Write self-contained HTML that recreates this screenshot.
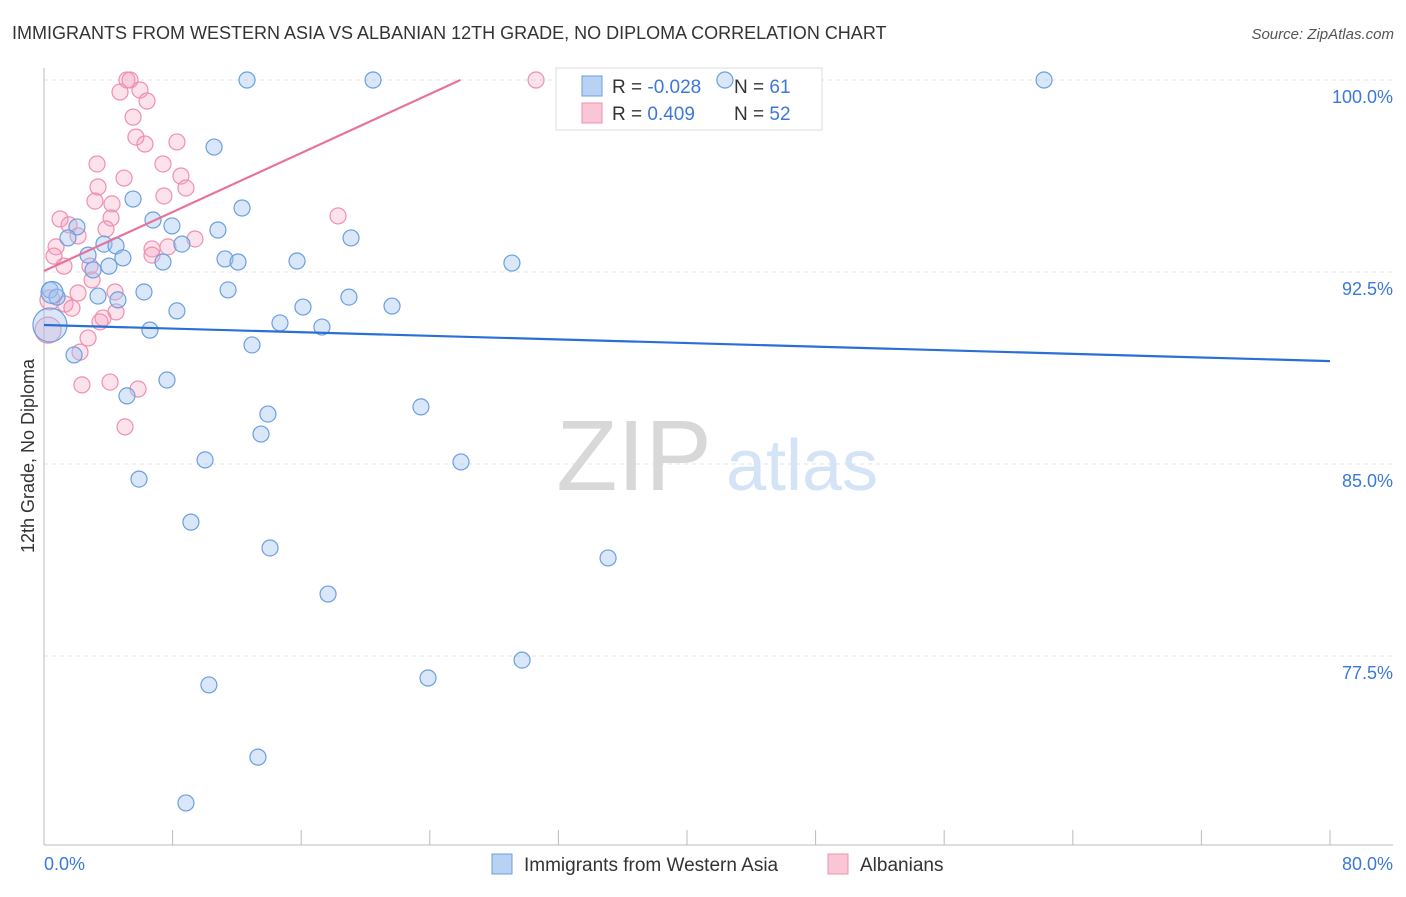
<!DOCTYPE html>
<html><head><meta charset="utf-8"><style>
body{margin:0;background:#fff;width:1406px;height:892px;overflow:hidden;font-family:"Liberation Sans",sans-serif}
svg text{font-family:"Liberation Sans",sans-serif}
</style></head><body>
<svg id="chart" width="1406" height="892" xmlns="http://www.w3.org/2000/svg">
<text x="12" y="39" font-size="18" fill="#333">IMMIGRANTS FROM WESTERN ASIA VS ALBANIAN 12TH GRADE, NO DIPLOMA CORRELATION CHART</text>
<text x="1394" y="39" font-size="15" fill="#555" text-anchor="end" font-style="italic">Source: ZipAtlas.com</text>
<g id="grid"></g>
<g>
<text x="634" y="490" font-size="100" fill="#d8d8d8" text-anchor="middle" font-family="Liberation Serif">ZIP</text>
<text x="802" y="490" font-size="72" fill="#d4e3f5" text-anchor="middle">atlas</text>
</g>
<line x1="44" y1="68" x2="44" y2="845" stroke="#bbb"/>
<line x1="44" y1="845" x2="1393" y2="845" stroke="#bbb"/>
<g>
<rect x="556" y="68" width="266" height="62" fill="#fff" stroke="#ddd"/>
<rect x="582" y="76" width="20" height="20" fill="#b8d2f4" stroke="#6a9fe0"/>
<rect x="582" y="103" width="20" height="20" fill="#f9c6d6" stroke="#f08fb0"/>
<text x="612" y="93" font-size="19" fill="#333">R = <tspan fill="#3b78d8">-0.028</tspan></text>
<text x="734" y="93" font-size="19" fill="#333">N = <tspan fill="#3b78d8"> 61</tspan></text>
<text x="612" y="120" font-size="19" fill="#333">R = <tspan fill="#3b78d8"> 0.409</tspan></text>
<text x="734" y="120" font-size="19" fill="#333">N = <tspan fill="#3b78d8">52</tspan></text>
</g>
<g id="points"></g>
<g id="trends"></g>
<text transform="translate(34,456) rotate(-90)" font-size="18" fill="#333" text-anchor="middle">12th Grade, No Diploma</text>
<text x="44" y="870" font-size="18" fill="#3b78d8">0.0%</text>
<text x="1393" y="870" font-size="18" fill="#3b78d8" text-anchor="end">80.0%</text>
<g>
<rect x="492" y="854" width="20" height="20" fill="#b8d2f4" stroke="#6a9fe0"/>
<text x="524" y="871" font-size="19" fill="#333">Immigrants from Western Asia</text>
<rect x="828" y="854" width="20" height="20" fill="#f9c6d6" stroke="#f08fb0"/>
<text x="860" y="871" font-size="19" fill="#333">Albanians</text>
</g>
</svg>
<script>
const yTicks=[100,92.5,85,77.5];
const yTickLabels=["100.0%","92.5%","85.0%","77.5%"];
const xTicks=[0,8,16,24,32,40,48,56,64,72,80];
const blueX=[12.63,20.47,42.36,62.21,10.58,5.54,6.78,7.96,12.32,10.82,19.10,2.05,1.49,3.73,4.48,2.74,4.91,7.40,8.58,11.26,12.07,15.74,29.11,3.05,4.04,0.37,0.81,3.36,4.60,6.22,11.45,16.11,18.97,21.65,8.27,14.68,17.29,6.59,12.94,1.87,7.65,5.16,23.45,13.93,13.50,10.02,25.94,5.91,9.14,14.06,35.09,17.67,29.74,23.89,10.26,13.31,8.83,0.37,0.5];
const blueY=[100,100,100,100,97.38,95.35,94.53,94.30,95.0,94.14,93.83,94.26,93.83,93.59,93.52,93.16,93.05,92.89,93.59,93.01,92.89,92.93,92.85,92.58,92.73,91.8,91.52,91.56,91.41,91.72,91.8,91.13,91.52,91.17,90.98,90.51,90.35,90.23,89.65,89.26,88.28,87.66,87.23,86.95,86.17,85.16,85.08,84.41,82.73,81.72,81.33,79.92,77.34,76.64,76.37,73.55,71.76,90.43,91.7];
const blueSize=[8,8,8,8,8,8,8,8,8,8,8,8,8,8,8,8,8,8,8,8,8,8,8,8,8,8,8,8,8,8,8,8,8,8,8,8,8,8,8,8,8,8,8,8,8,8,8,8,8,8,8,8,8,8,8,8,8,17,11];
const pinkX=[5.16,5.35,30.61,4.73,5.97,6.41,5.54,5.72,6.28,8.27,3.30,7.40,4.98,8.52,3.36,8.83,7.46,3.17,4.23,18.29,4.17,1.0,1.56,3.86,2.12,0.75,6.72,7.71,9.39,6.72,0.62,2.86,1.24,2.99,2.12,4.42,1.31,4.48,1.74,3.67,3.48,2.74,2.24,2.36,4.11,5.85,5.04,0.25,0.37];
const pinkY=[100,100,100,99.53,99.61,99.18,98.55,97.77,97.5,97.58,96.72,96.72,96.17,96.25,95.82,95.78,95.47,95.27,95.16,94.69,94.61,94.57,94.34,94.18,93.91,93.48,93.4,93.48,93.79,93.16,93.12,92.73,92.73,92.19,91.68,91.72,91.25,90.94,91.09,90.70,90.55,89.92,89.37,88.09,88.20,87.93,86.45,90.23,91.41];
const pinkSize=[8,8,8,8,8,8,8,8,8,8,8,8,8,8,8,8,8,8,8,8,8,8,8,8,8,8,8,8,8,8,8,8,8,8,8,8,8,8,8,8,8,8,8,8,8,8,8,13,10];
const blueTrend=[90.43,89.02];
const pinkTrend=[92.54,0.288];
const NS="http://www.w3.org/2000/svg";
const xS=v=>44+v*1286/80;
const yS=v=>80+(100-v)*25.6;
function mk(tag,attrs,parent){const e=document.createElementNS(NS,tag);for(const k in attrs)e.setAttribute(k,attrs[k]);parent.appendChild(e);return e;}
const grid=document.getElementById('grid');
yTicks.forEach((t,i)=>{
 const l=mk('line',{x1:44,x2:1393,y1:yS(t),y2:yS(t),stroke:'#e3e3e3','stroke-dasharray':'4,4'},grid);
 
 
 const tx=mk('text',{x:1393,y:yS(t)+23,'font-size':18,fill:'#3b78d8','text-anchor':'end'},grid);
 tx.textContent=yTickLabels[i];
 
 
});
xTicks.forEach(t=>{
 const l=mk('line',{x1:xS(t),x2:xS(t),y1:830,y2:845,stroke:'#bbb'},grid);
 
 
});
const pts=document.getElementById('points');
pinkX.forEach((x,i)=>{
 const c=mk('circle',{cx:xS(x),cy:yS(pinkY[i]),r:pinkSize[i],fill:'rgba(244,160,190,0.3)',stroke:'#f08fb0','stroke-width':1.2},pts);
 
 
});
blueX.forEach((x,i)=>{
 const c=mk('circle',{cx:xS(x),cy:yS(blueY[i]),r:blueSize[i],fill:'rgba(160,196,240,0.4)',stroke:'#6a9fe0','stroke-width':1.2},pts);
 
 
});
const tr=document.getElementById('trends');
const bl=mk('line',{x1:xS(0),y1:yS(blueTrend[0]),x2:xS(80),y2:yS(blueTrend[1]),stroke:'#2a6fd6','stroke-width':2.2},tr);


const pxEnd=(100-pinkTrend[0])/pinkTrend[1];
const pl=mk('line',{x1:xS(0),y1:yS(pinkTrend[0]),x2:xS(pxEnd),y2:yS(100),stroke:'#e8739a','stroke-width':2.2},tr);


</script>
</body></html>
